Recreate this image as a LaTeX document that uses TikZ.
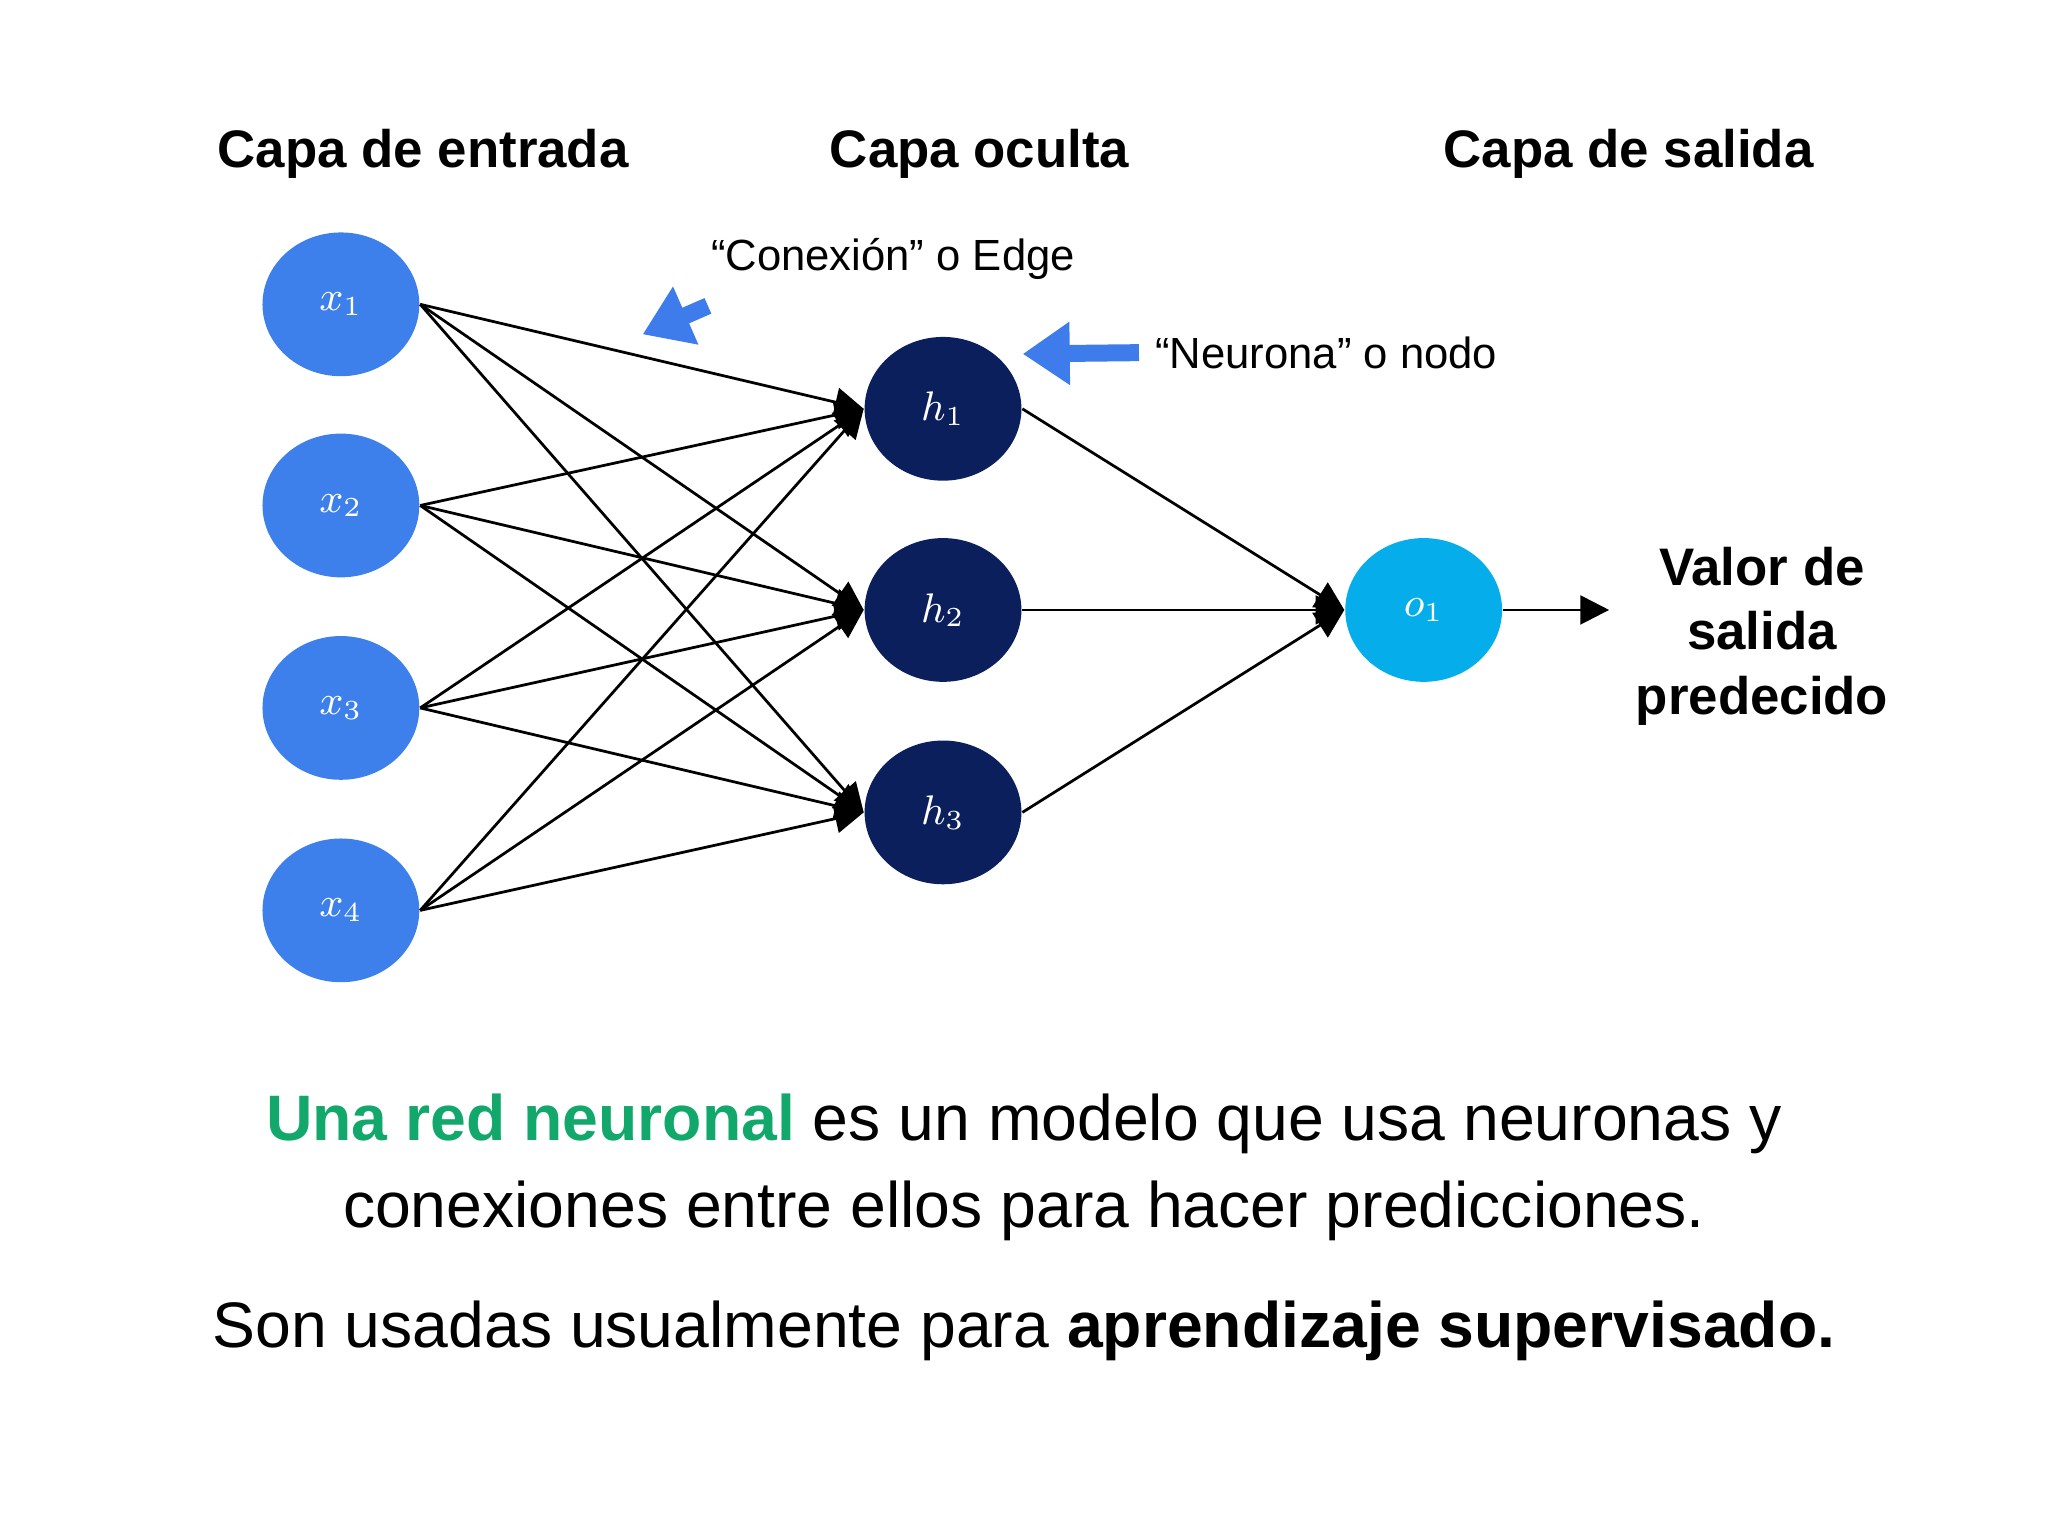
\documentclass[tikz,border=0pt]{standalone}
\usepackage{fontspec}
\setmainfont{Liberation Sans}
\usetikzlibrary{arrows.meta,shapes.geometric}
\definecolor{inblue}{HTML}{3D80EC}
\definecolor{hidnavy}{HTML}{0A1F5C}
\definecolor{outcyan}{HTML}{05AEEA}
\definecolor{greentxt}{HTML}{12A86B}
\definecolor{notearrow}{HTML}{3D7CEA}
\tikzset{
  neuron/.style={ellipse,minimum width=1.2cm,minimum height=1.1cm,inner sep=0pt,text=white,font=\small},
  edge/.style={semithick,-{Triangle[length=2.2mm,width=2.2mm]}},
  title/.style={font=\fontsize{11.5}{14}\selectfont\bfseries},
  note/.style={font=\fontsize{9.5}{12}\selectfont},
  pointer/.style={notearrow,line width=1.3mm,-{Triangle[length=3.6mm,width=4.6mm]}}
}
\begin{document}
\begin{tikzpicture}[x=0.01cm,y=-0.01cm]
\useasboundingbox (0,0) rectangle (1568,1176);
% Layers
\node[title] (tin) at (324,118) {Capa de entrada};
\node[title] (thid) at (750,118) {Capa oculta};
\node[title] (tout) at (1247,118) {Capa de salida};

% Neurons
\foreach \i/\y in {1/233,2/387,3/542,4/697}
  \node[neuron,fill=inblue] (x\i) at (261,\y) {$x_{\i}$};
\foreach \i/\y in {1/313,2/467,3/622}
  \node[neuron,fill=hidnavy] (h\i) at (722,\y) {$h_{\i}$};
\node[neuron,fill=outcyan] (o1) at (1090,467) {$o_1$};

% Connections
\foreach \i in {1,...,4}
  \foreach \j in {1,2,3}
    \draw[edge] (x\i.east) -- (h\j.west);
\foreach \j in {1,2,3}
  \draw[edge] (h\j.east) -- (o1.west);
\coordinate (pred) at (1232,467);
\draw[semithick,-{Triangle[length=2.2mm,width=2.2mm]}] (o1.east) -- (pred);
\node[title,align=center,anchor=west] (val) at (1240,487) {Valor de\\salida\\predecido};

% Notes
\node[note,anchor=west] (nedge) at (532,198) {“Conexión” o Edge};
\coordinate (pedge) at (492,256);
\draw[pointer] (nedge.south west) ++(10,8) coordinate (sedge) -- (pedge);
\node[note,anchor=west] (nnode) at (872,270) {“Neurona” o nodo};
\coordinate (pnode) at (783,271);
\draw[pointer] (nnode.west) -- (pnode);

% Text
\node[font=\fontsize{14}{19}\selectfont,align=center] (txt1) at (784,894)
  {\textcolor{greentxt}{\bfseries Una red neuronal} es un modelo que usa neuronas y\\conexiones entre ellos para hacer predicciones.};
\node[font=\fontsize{14}{19}\selectfont] (txt2) at (784,1019)
  {Son usadas usualmente para \textbf{aprendizaje supervisado.}};
\end{tikzpicture}
\end{document}
